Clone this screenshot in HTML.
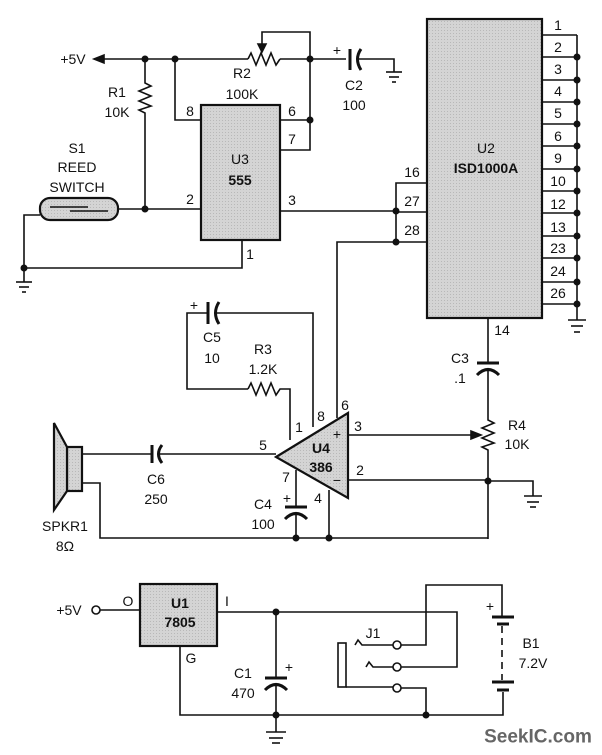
<!DOCTYPE html>
<html><head><meta charset="utf-8"><style>
html,body{margin:0;padding:0;background:#fff;}
svg{display:block}
text{font-family:"Liberation Sans",Arial,sans-serif;font-size:14px;fill:#111;text-anchor:middle;dominant-baseline:central}
.b{font-weight:bold}
</style></head><body>
<svg width="602" height="755" viewBox="0 0 602 755" xmlns="http://www.w3.org/2000/svg">
<defs>
<pattern id="g" width="3" height="3" patternUnits="userSpaceOnUse"><rect width="3" height="3" fill="#d4d4d4"/><rect width="1" height="1" fill="#b8b8b8"/></pattern>
</defs>
<g stroke="#111" stroke-width="1.6" fill="none">
<!-- +5V top rail -->
<line x1="96" y1="59" x2="248" y2="59"/><polygon points="94,59 104,55 104,63" fill="#111"/>
<line x1="280" y1="59" x2="346" y2="59"/>
<polyline points="248,59 251,53 256,65 261,53 266,65 271,53 276,65 280,59"/>
<polyline points="262,47 262,32 310,32 310,150 280,150"/>
<polygon points="262,52 258,44 266,44" fill="#111"/>
<line x1="280" y1="120" x2="310" y2="120"/>
<!-- C2 -->
<line x1="350" y1="49" x2="350" y2="70" stroke-width="3"/>
<path d="M361,49 Q354,59 361,70" stroke-width="3"/>
<polyline points="357,59 394,59 394,72"/>
<line x1="386" y1="72" x2="402" y2="72"/><line x1="389" y1="77" x2="399" y2="77"/><line x1="392" y1="82" x2="396" y2="82"/>
<!-- R1 -->
<polyline points="145,59 145,83 151,86 139,91 151,96 139,101 151,106 139,110 145,113 145,209"/>
<polyline points="175,59 175,120 201,120"/>
<!-- reed -->
<rect x="40" y="198" width="78" height="22" rx="10" fill="url(#g)" stroke-width="2.2"/>
<line x1="50" y1="207" x2="88" y2="207"/><line x1="70" y1="211" x2="108" y2="211"/>
<line x1="118" y1="209" x2="201" y2="209"/>
<polyline points="40,215 24,215 24,268 242,268 242,240"/>
<line x1="16" y1="282" x2="32" y2="282"/><line x1="19" y1="287" x2="29" y2="287"/><line x1="22" y1="292" x2="26" y2="292"/>
<line x1="24" y1="268" x2="24" y2="282"/>
<!-- U3 -->
<rect x="201" y="105" width="79" height="135" fill="url(#g)" stroke-width="2.2"/>
<line x1="280" y1="211" x2="396" y2="211"/>
<!-- U2 -->
<rect x="427" y="19" width="115" height="299" fill="url(#g)" stroke-width="2.2"/>
<polyline points="427,183 396,183 396,242 427,242"/>
<line x1="396" y1="212" x2="427" y2="212"/>
<polyline points="396,242 337,242 337,418"/>
<line x1="542" y1="35" x2="577" y2="35"/><line x1="542" y1="57" x2="577" y2="57"/><line x1="542" y1="80" x2="577" y2="80"/>
<line x1="542" y1="102" x2="577" y2="102"/><line x1="542" y1="124" x2="577" y2="124"/><line x1="542" y1="146" x2="577" y2="146"/>
<line x1="542" y1="169" x2="577" y2="169"/><line x1="542" y1="191" x2="577" y2="191"/><line x1="542" y1="213" x2="577" y2="213"/>
<line x1="542" y1="236" x2="577" y2="236"/><line x1="542" y1="258" x2="577" y2="258"/><line x1="542" y1="282" x2="577" y2="282"/>
<line x1="542" y1="304" x2="577" y2="304"/>
<line x1="577" y1="35" x2="577" y2="320"/>
<line x1="568" y1="320" x2="586" y2="320"/><line x1="571" y1="326" x2="583" y2="326"/><line x1="574" y1="332" x2="580" y2="332"/>
<!-- pin 14, C3, R4 -->
<line x1="488" y1="318" x2="488" y2="363"/>
<line x1="477" y1="363" x2="499" y2="363" stroke-width="3"/>
<path d="M477,375 Q488,364 499,375" stroke-width="3"/>
<polyline points="488,369 488,420 494,423 482,428 494,433 482,438 494,443 482,447 488,450 488,539"/>
<polyline points="488,481 533,481 533,496"/>
<line x1="524" y1="496" x2="542" y2="496"/><line x1="527" y1="502" x2="539" y2="502"/><line x1="530" y1="507" x2="536" y2="507"/>
<!-- U4 -->
<polygon points="276,457 348,413 348,498" fill="url(#g)" stroke-width="2.2"/>
<line x1="348" y1="435" x2="474" y2="435"/><polygon points="481,435 471,431 471,439" fill="#111"/>
<line x1="348" y1="480" x2="488" y2="480"/>
<polyline points="313,427 313,313 214,313"/>
<line x1="208" y1="302" x2="208" y2="324" stroke-width="3"/>
<path d="M219,302 Q212,313 219,324" stroke-width="3"/>
<polyline points="208,313 187,313 187,389 248,389"/>
<polyline points="248,389 251,383 256,395 261,383 266,395 271,383 276,395 280,389 290,389 290,440"/>
<line x1="82" y1="454" x2="152" y2="454"/><line x1="159" y1="454" x2="276" y2="454"/>
<line x1="152" y1="445" x2="152" y2="463" stroke-width="3"/>
<path d="M162,445 Q155,454 162,463" stroke-width="3"/>
<line x1="296" y1="470" x2="296" y2="507"/>
<line x1="285" y1="507" x2="307" y2="507" stroke-width="3"/>
<path d="M285,519 Q296,508 307,519" stroke-width="3"/>
<line x1="296" y1="513" x2="296" y2="538"/>
<line x1="329" y1="490" x2="329" y2="538"/>
<polyline points="82,483 100,483 100,538 488,538"/>
<!-- speaker -->
<rect x="67" y="447" width="15" height="44" fill="url(#g)" stroke-width="2.2"/>
<polygon points="54,423 67,447 67,491 54,510" fill="url(#g)" stroke-width="2.2"/>
<!-- bottom -->
<circle cx="96" cy="610" r="4" fill="#fff"/>
<line x1="100" y1="610" x2="140" y2="610"/>
<rect x="140" y="584" width="77" height="62" fill="url(#g)" stroke-width="2.2"/>
<polyline points="217,612 457,612 457,667 401,667"/>
<polyline points="180,646 180,715 503,715 503,692"/>
<line x1="276" y1="612" x2="276" y2="678"/>
<line x1="265" y1="678" x2="287" y2="678" stroke-width="3"/>
<path d="M265,690 Q276,679 287,690" stroke-width="3"/>
<line x1="276" y1="684" x2="276" y2="732"/>
<line x1="266" y1="732" x2="286" y2="732"/><line x1="269" y1="738" x2="283" y2="738"/><line x1="272" y1="743" x2="280" y2="743"/>
<rect x="338" y="643" width="8" height="44"/>
<polyline points="346,687 393,687"/>
<polyline points="401,688 426,688 426,715"/>
<polyline points="393,645 362,645 358,640 355,645"/>
<polyline points="393,667 373,667 369,662 366,667"/>
<polyline points="401,645 426,645 426,585 502,585 502,617"/>
<circle cx="397" cy="645" r="4" fill="#fff"/><circle cx="397" cy="667" r="4" fill="#fff"/><circle cx="397" cy="688" r="4" fill="#fff"/>
<line x1="492" y1="617" x2="514" y2="617" stroke-width="3"/>
<line x1="497" y1="624" x2="509" y2="624" stroke-width="3"/>
<line x1="502" y1="626" x2="502" y2="680" stroke-dasharray="7,5"/>
<line x1="492" y1="682" x2="514" y2="682" stroke-width="3"/>
<line x1="497" y1="690" x2="509" y2="690" stroke-width="3"/>
</g>
<g fill="#111">
<circle cx="145" cy="59" r="3.5"/><circle cx="175" cy="59" r="3.5"/><circle cx="310" cy="59" r="3.5"/><circle cx="310" cy="120" r="3.5"/>
<circle cx="145" cy="209" r="3.5"/><circle cx="24" cy="268" r="3.5"/><circle cx="396" cy="211" r="3.5"/><circle cx="396" cy="242" r="3.5"/>
<circle cx="577" cy="57" r="3.5"/><circle cx="577" cy="80" r="3.5"/><circle cx="577" cy="102" r="3.5"/><circle cx="577" cy="124" r="3.5"/>
<circle cx="577" cy="146" r="3.5"/><circle cx="577" cy="169" r="3.5"/><circle cx="577" cy="191" r="3.5"/><circle cx="577" cy="213" r="3.5"/>
<circle cx="577" cy="236" r="3.5"/><circle cx="577" cy="258" r="3.5"/><circle cx="577" cy="282" r="3.5"/><circle cx="577" cy="304" r="3.5"/>
<circle cx="488" cy="481" r="3.5"/><circle cx="296" cy="538" r="3.5"/><circle cx="329" cy="538" r="3.5"/>
<circle cx="276" cy="612" r="3.5"/><circle cx="276" cy="715" r="3.5"/><circle cx="426" cy="715" r="3.5"/>
</g>
<text x="73" y="59">+5V</text>
<text x="242" y="73">R2</text><text x="242" y="94">100K</text>
<text x="337" y="50">+</text><text x="354" y="85">C2</text><text x="354" y="105">100</text>
<text x="117" y="92">R1</text><text x="117" y="112">10K</text>
<text x="77" y="148">S1</text><text x="77" y="167">REED</text><text x="77" y="187">SWITCH</text>
<text x="240" y="159">U3</text><text x="240" y="180" class="b">555</text>
<text x="190" y="111">8</text><text x="292" y="111">6</text><text x="292" y="139">7</text>
<text x="190" y="199">2</text><text x="292" y="200">3</text><text x="250" y="254">1</text>
<text x="486" y="148">U2</text><text x="486" y="168" class="b">ISD1000A</text>
<text x="412" y="172">16</text><text x="412" y="201">27</text><text x="412" y="230">28</text>
<text x="558" y="25">1</text><text x="558" y="47">2</text><text x="558" y="69">3</text><text x="558" y="91">4</text>
<text x="558" y="113">5</text><text x="558" y="136">6</text><text x="558" y="158">9</text><text x="558" y="181">10</text>
<text x="558" y="204">12</text><text x="558" y="227">13</text><text x="558" y="248">23</text><text x="558" y="271">24</text>
<text x="558" y="293">26</text>
<text x="502" y="330">14</text><text x="460" y="358">C3</text><text x="460" y="378">.1</text>
<text x="517" y="425">R4</text><text x="517" y="444">10K</text>
<text x="194" y="305">+</text><text x="212" y="337">C5</text><text x="212" y="358">10</text>
<text x="263" y="349">R3</text><text x="263" y="369">1.2K</text>
<text x="321" y="448" class="b">U4</text><text x="321" y="467" class="b">386</text>
<text x="337" y="434">+</text><text x="337" y="480">−</text>
<text x="345" y="405">6</text><text x="321" y="416">8</text><text x="299" y="427">1</text><text x="358" y="426">3</text>
<text x="360" y="470">2</text><text x="263" y="445">5</text><text x="286" y="477">7</text><text x="318" y="498">4</text>
<text x="287" y="498">+</text><text x="263" y="504">C4</text><text x="263" y="524">100</text>
<text x="156" y="479">C6</text><text x="156" y="499">250</text>
<text x="65" y="526">SPKR1</text><text x="65" y="546">8Ω</text>
<text x="69" y="610">+5V</text><text x="128" y="601">O</text><text x="227" y="601">I</text><text x="191" y="658">G</text>
<text x="180" y="603" class="b">U1</text><text x="180" y="622" class="b">7805</text>
<text x="289" y="667">+</text><text x="243" y="673">C1</text><text x="243" y="693">470</text>
<text x="373" y="633">J1</text><text x="490" y="606">+</text><text x="531" y="643">B1</text><text x="533" y="663">7.2V</text>
<text x="538" y="737" class="b" style="font-size:19px;fill:#666">SeekIC.com</text>
</svg>
</body></html>
